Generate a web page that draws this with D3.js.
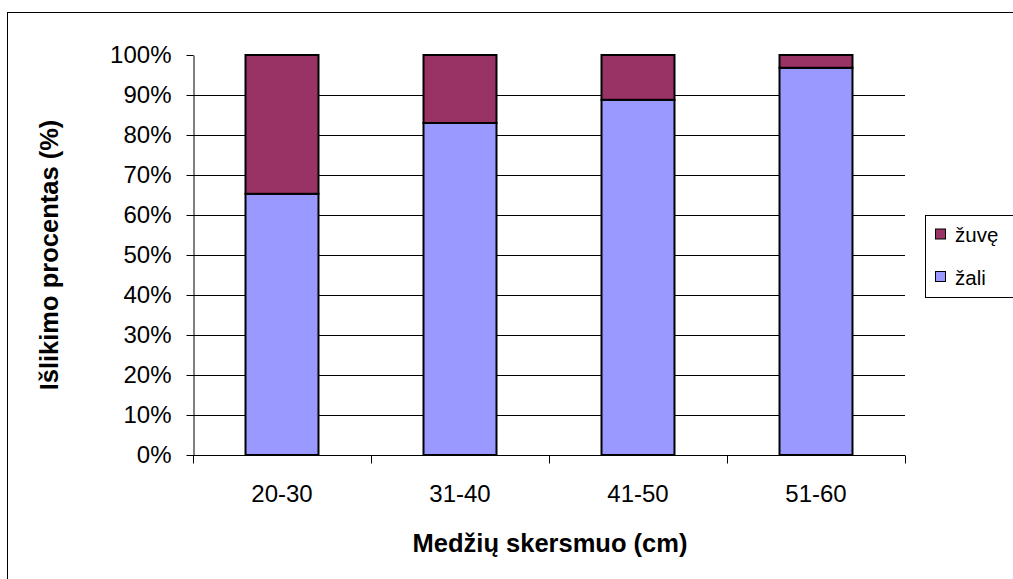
<!DOCTYPE html>
<html>
<head>
<meta charset="utf-8">
<script src="https://cdn.jsdelivr.net/npm/d3@7"></script>
<style>
  html, body { margin: 0; padding: 0; background: #fff; }
  svg { display: block; font-family: "Liberation Sans", Arial, sans-serif; }
</style>
</head>
<body>
<svg id="chart" width="1013" height="579"></svg>
<script>
// Diameter classes and survival shares (%)
const categories = ["20-30", "31-40", "41-50", "51-60"];
const zali = [65.3, 83, 88.8, 96.8];      // still green
const zuve = [34.7, 17, 11.2, 3.2];       // dead
const seriesNames = ["žali", "žuvę"];
const seriesColors = ["#9999FF", "#993366"];
const yTicks = [0, 10, 20, 30, 40, 50, 60, 70, 80, 90, 100];

const svg = d3.select("#chart");
const W = 1013, H = 579;
const plot = { left: 193, right: 905, top: 55, bottom: 455 };

// outer chart frame
svg.append("rect")
  .attr("x", 7.5).attr("y", 12.5)
  .attr("width", W + 10).attr("height", H + 10)
  .attr("fill", "#fff").attr("stroke", "#000").attr("stroke-width", 1);

const x = d3.scaleBand().domain(categories).range([plot.left, plot.right]).paddingInner(0.59).paddingOuter(0.295);
const y = d3.scaleLinear().domain([0, 100]).range([plot.bottom, plot.top]);

// gridlines
svg.append("g").selectAll("line")
  .data(yTicks.filter(t => t > 0 && t < 100))
  .join("line")
  .attr("x1", plot.left).attr("x2", plot.right)
  .attr("y1", d => Math.round(y(d)) + 0.5).attr("y2", d => Math.round(y(d)) + 0.5)
  .attr("stroke", "#000").attr("stroke-width", 1);

// stacked data
const rows = categories.map((c, i) => ({ cat: c, "žali": zali[i], "žuvę": zuve[i] }));
const stacked = d3.stack().keys(seriesNames)(rows);

svg.append("g").selectAll("g")
  .data(stacked)
  .join("g")
  .attr("fill", (d, i) => seriesColors[i])
  .selectAll("rect")
  .data(d => d)
  .join("rect")
  .attr("x", d => x(d.data.cat))
  .attr("width", x.bandwidth())
  .attr("y", d => y(d[1]))
  .attr("height", d => y(d[0]) - y(d[1]))
  .attr("stroke", "#000").attr("stroke-width", 2);

// y axis
const yAxis = d3.axisLeft(y).tickValues(yTicks).tickFormat(d => d + "%").tickSize(7).tickSizeOuter(0);
const gy = svg.append("g").attr("transform", `translate(${plot.left + 0.5},0)`).call(yAxis);
gy.selectAll("path, line").attr("stroke", "#000");
gy.selectAll("text").attr("font-size", 24).attr("fill", "#000")
  .attr("font-family", "Liberation Sans, Arial, sans-serif").attr("x", -22);

// x axis with ticks at category boundaries
const gx = svg.append("g").attr("transform", `translate(0,${plot.bottom + 0.5})`);
gx.append("line").attr("x1", plot.left).attr("x2", plot.right).attr("stroke", "#000");
gx.selectAll("line.tick")
  .data(d3.range(categories.length + 1))
  .join("line").attr("class", "tick")
  .attr("x1", i => Math.round(plot.left + i * (plot.right - plot.left) / categories.length) + 0.5)
  .attr("x2", i => Math.round(plot.left + i * (plot.right - plot.left) / categories.length) + 0.5)
  .attr("y1", 0).attr("y2", 8).attr("stroke", "#000");
gx.selectAll("text")
  .data(categories)
  .join("text")
  .attr("x", d => x(d) + x.bandwidth() / 2)
  .attr("y", 46)
  .attr("text-anchor", "middle")
  .attr("font-size", 24)
  .text(d => d);

// axis titles
svg.append("text")
  .attr("x", 550).attr("y", 552)
  .attr("text-anchor", "middle")
  .attr("font-size", 25.5).attr("font-weight", "bold")
  .text("Medžių skersmuo (cm)");
svg.append("text")
  .attr("transform", "translate(58,255) rotate(-90)")
  .attr("text-anchor", "middle")
  .attr("font-size", 25.5).attr("font-weight", "bold")
  .text("Išlikimo procentas (%)");

// legend
const lg = svg.append("g");
lg.append("rect").attr("x", 925.5).attr("y", 215.5).attr("width", 120).attr("height", 82)
  .attr("fill", "#fff").attr("stroke", "#000").attr("stroke-width", 1);
const legendItems = [
  { name: "žuvę", color: seriesColors[1], y: 234.5 },
  { name: "žali", color: seriesColors[0], y: 277 }
];
legendItems.forEach(it => {
  lg.append("rect").attr("x", 935.5).attr("y", it.y - 5.5).attr("width", 10).attr("height", 10)
    .attr("fill", it.color).attr("stroke", "#000").attr("stroke-width", 1);
  lg.append("text").attr("x", 955).attr("y", it.y + 7.5)
    .attr("font-size", 20.5).text(it.name);
});
</script>
</body>
</html>
